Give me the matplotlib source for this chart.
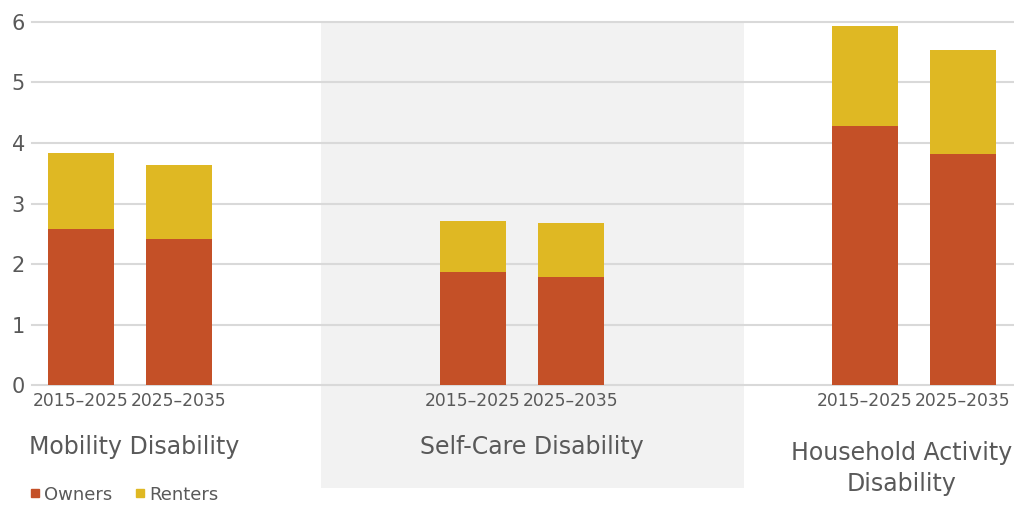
import numpy as np
import matplotlib.pyplot as plt
from matplotlib.patches import Rectangle
from matplotlib.lines import Line2D
import matplotlib.transforms as mtransforms

# Datos: millones de hogares por tipo de discapacidad y periodo
periodos = ["2015–2025", "2025–2035"]
grupos = ["Mobility Disability", "Self-Care Disability", "Household Activity\nDisability"]
owners = [2.58, 2.42, 1.87, 1.78, 4.28, 3.82]
renters = [1.25, 1.21, 0.84, 0.90, 1.65, 1.71]
posiciones = [0, 1, 4, 5, 8, 9]

c_owners = "#C45027"
c_renters = "#DFB823"
c_texto = "#595959"

fig = plt.figure(figsize=(10.14, 5.08), dpi=100)
ax = fig.add_axes([0.0316, 0.2421, 0.9684, 0.7146])

ax.bar(posiciones, owners, width=0.675, color=c_owners, zorder=3)
ax.bar(posiciones, renters, width=0.675, bottom=owners, color=c_renters, zorder=3)

ax.set_xlim(-0.5, 9.52)
ax.set_ylim(0, 6)
ax.set_yticks(range(0, 7))
ax.set_xticks(posiciones)
ax.set_xticklabels(periodos * 3)
ax.grid(axis="y", color="#D9D9D9", linewidth=1.5, zorder=1)
for g in ax.get_ygridlines():
    g.set_clip_on(False)
for s in ax.spines.values():
    s.set_visible(False)
ax.tick_params(axis="both", length=0, colors=c_texto)
ax.tick_params(axis="y", labelsize=15, pad=5)
ax.tick_params(axis="x", labelsize=12.3, pad=5)

# franja gris del grupo central
trans = mtransforms.blended_transform_factory(ax.transData, ax.transAxes)
ax.add_patch(Rectangle((2.445, -0.284), 6.76 - 2.445, 1.284, transform=trans,
                       facecolor="#F2F2F2", edgecolor="none", clip_on=False, zorder=0))

# etiquetas de grupo
ax.text(0.54, -0.171, grupos[0], transform=trans, ha="center", va="center",
        fontsize=17, color=c_texto)
ax.text(4.6, -0.171, grupos[1], transform=trans, ha="center", va="center",
        fontsize=17, color=c_texto)
ax.text(8.37, -0.23, grupos[2], transform=trans, ha="center", va="center",
        fontsize=17, color=c_texto, linespacing=1.38)

handles = [Line2D([], [], marker="s", linestyle="none", color=c_owners, markersize=6),
           Line2D([], [], marker="s", linestyle="none", color=c_renters, markersize=6)]
fig.legend(handles, ["Owners", "Renters"], loc="center left", bbox_to_anchor=(0.01, 0.026),
           ncol=2, frameon=False, fontsize=13, handletextpad=0.0, columnspacing=1.0,
           labelcolor=c_texto, handlelength=1.0)

fig.savefig("out.png", dpi=100)
